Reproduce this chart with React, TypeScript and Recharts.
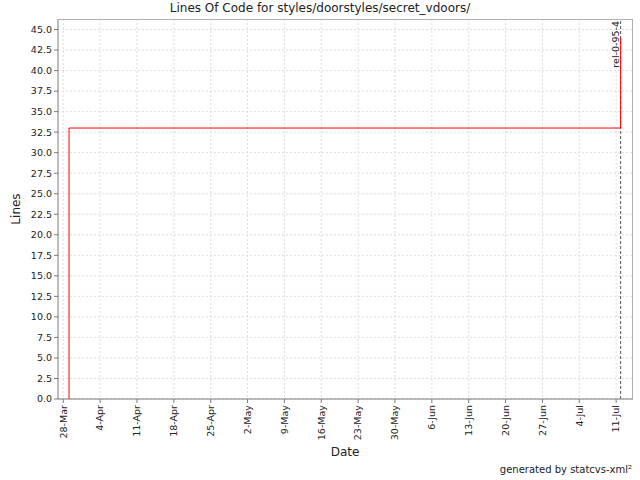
import React from 'react';
import { LineChart, Line, XAxis, YAxis, CartesianGrid, ReferenceLine } from 'recharts';

// days since 28-Mar for each commit, and lines of code after it
const commitDays = [1.1, 1.1, 105.85];
const linesOfCode = [0, 33, 44];

const weekTicks = [0, 7, 14, 21, 28, 35, 42, 49, 56, 63, 70, 77, 84, 91, 98, 105];
const weekLabels = [
    '28-Mar', '4-Apr', '11-Apr', '18-Apr', '25-Apr', '2-May', '9-May', '16-May',
    '23-May', '30-May', '6-Jun', '13-Jun', '20-Jun', '27-Jun', '4-Jul', '11-Jul',
];
const yTicks = [0, 2.5, 5, 7.5, 10, 12.5, 15, 17.5, 20, 22.5, 25, 27.5, 30, 32.5, 35, 37.5, 40, 42.5, 45];

const releaseDay = 105.85;
const releaseName = 'rel-0-95-4';

const FONT = '"DejaVu Sans", sans-serif';

const chartData = commitDays.map((day, i) => ({ day, loc: linesOfCode[i] }));

const DateTick: React.FC<any> = ({ x, y, payload }) => {
    const idx = weekTicks.indexOf(payload.value);
    return (
        <text
            x={x}
            y={y}
            dy="0.35em"
            textAnchor="end"
            transform={`rotate(-90, ${x}, ${y})`}
            fontSize={9.5}
            fontFamily={FONT}
            fill="#222"
        >
            {idx >= 0 ? weekLabels[idx] : ''}
        </text>
    );
};

const ReleaseLabel: React.FC<any> = ({ viewBox }) => {
    const x = viewBox.x;
    const y = viewBox.y;
    return (
        <text
            x={x - 2}
            y={y + 2}
            textAnchor="end"
            transform={`rotate(-90, ${x - 2}, ${y + 2})`}
            fontSize={9.5}
            fontFamily={FONT}
            fill="#222"
        >
            {releaseName}
        </text>
    );
};

const App: React.FC = () => {
    return (
        <div style={{ position: 'absolute', left: 0, top: 0, width: 640, height: 480, background: '#fff', fontFamily: FONT }}>
            <div style={{ position: 'absolute', left: 0, top: 1, width: 640, textAlign: 'center', fontSize: 12, color: '#222' }}>
                Lines Of Code for styles/doorstyles/secret_vdoors/
            </div>
            <LineChart
                width={640}
                height={480}
                data={chartData}
                margin={{ top: 19, right: 7, left: 0, bottom: 0 }}
            >
                <CartesianGrid stroke="#dedede" strokeDasharray="2 2" verticalValues={weekTicks} horizontalValues={yTicks} />
                <XAxis
                    dataKey="day"
                    type="number"
                    domain={[-1, 108.2]}
                    ticks={weekTicks}
                    interval={0}
                    allowDataOverflow
                    height={81}
                    stroke="#7a7a7a"
                    tickSize={4}
                    tickMargin={2}
                    tick={<DateTick />}
                />
                <YAxis
                    type="number"
                    domain={[0, 46.28]}
                    ticks={yTicks}
                    interval={0}
                    allowDataOverflow
                    width={58}
                    stroke="#7a7a7a"
                    tickSize={4}
                    tickMargin={2}
                    tickFormatter={(v: number) => v.toFixed(1)}
                    tick={{ fontSize: 9.5, fontFamily: FONT, fill: '#222' }}
                />
                <ReferenceLine x={releaseDay} stroke="#555" strokeDasharray="3 2" label={<ReleaseLabel />} />
                <Line
                    type="stepAfter"
                    dataKey="loc"
                    stroke="#ff0000"
                    strokeWidth={1}
                    dot={false}
                    isAnimationActive={false}
                />
            </LineChart>
            {/* plot frame on top and right */}
            <div style={{ position: 'absolute', left: 58, top: 19, width: 575, height: 380, borderTop: '1px solid #b0b0b0', borderRight: '1px solid #b0b0b0', boxSizing: 'border-box', pointerEvents: 'none' }} />
            <div style={{ position: 'absolute', left: 16, top: 209, transform: 'translate(-50%, -50%) rotate(-90deg)', fontSize: 12, color: '#222' }}>
                Lines
            </div>
            <div style={{ position: 'absolute', left: 345, top: 452, transform: 'translate(-50%, -50%)', fontSize: 12, color: '#222' }}>
                Date
            </div>
            <div style={{ position: 'absolute', right: 8, top: 464, fontSize: 10, color: '#222' }}>
                generated by statcvs-xml²
            </div>
        </div>
    );
};

export default App;
